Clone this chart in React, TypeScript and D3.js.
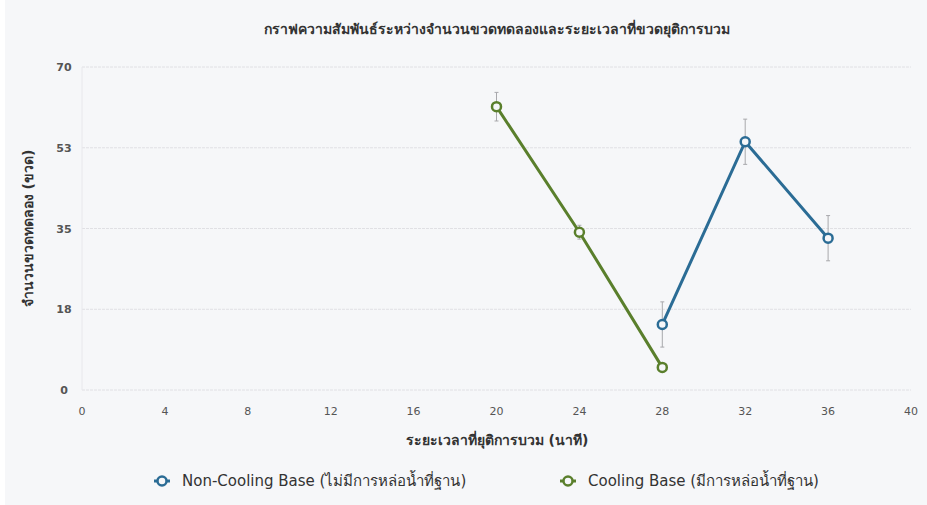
import React from "react";
import * as d3 from "d3";

const W = 927;
const H = 505;

const title = "กราฟความสัมพันธ์ระหว่างจำนวนขวดทดลองและระยะเวลาที่ขวดยุติการบวม";
const xTitle = "ระยะเวลาที่ยุติการบวม (นาที)";
const yTitle = "จำนวนขวดทดลอง (ขวด)";

const xTicks = [0, 4, 8, 12, 16, 20, 24, 28, 32, 36, 40];
const yTicks = [0, 17.5, 35, 52.5, 70];

const seriesNames = ["Non-Cooling Base (ไม่มีการหล่อน้ำที่ฐาน)", "Cooling Base (มีการหล่อน้ำที่ฐาน)"];
const seriesColors = ["#2b6c95", "#5a7f2c"];

const nonCoolingX = [28, 32, 36];
const nonCoolingY = [14.2, 53.8, 32.9];
const nonCoolingErr = [4.9, 4.9, 4.9];

const coolingX = [20, 24, 28];
const coolingY = [61.4, 34.2, 4.9];
const coolingErr = [3.1, 1.5, 0.5];

const FONT = "Tahoma, 'DejaVu Sans', 'Noto Sans', sans-serif";

export default function App() {
  const x = d3.scaleLinear().domain([0, 40]).range([82, 911]);
  const y = d3.scaleLinear().domain([0, 70]).range([390, 67]);

  const series = [
    { xs: nonCoolingX, ys: nonCoolingY, err: nonCoolingErr, color: seriesColors[0] },
    { xs: coolingX, ys: coolingY, err: coolingErr, color: seriesColors[1] },
  ];

  const line = d3
    .line<[number, number]>()
    .x((d) => x(d[0]))
    .y((d) => y(d[1]));

  const legendX = [162, 568];

  return (
    <svg
      width={W}
      height={H}
      style={{ position: "absolute", left: 0, top: 0, background: "#f6f7f9" }}
      fontFamily={FONT}
    >
      <rect x={0} y={0} width={W} height={H} fill="#f6f7f9" />
      <rect x={0} y={0} width={5} height={H} fill="#ffffff" />

      <text x={497} y={34} textAnchor="middle" fontSize={14} fontWeight="bold" fill="#333">
        {title}
      </text>

      {/* horizontal gridlines */}
      {yTicks.map((t) => (
        <line
          key={t}
          x1={x(0)}
          x2={x(40)}
          y1={y(t)}
          y2={y(t)}
          stroke="#e0e0e4"
          strokeWidth={1}
          strokeDasharray="3,1"
        />
      ))}
      <line x1={x(0)} x2={x(0)} y1={y(70)} y2={y(0)} stroke="#e8e8ec" strokeWidth={1} />

      {/* y tick labels */}
      {yTicks.map((t) => (
        <text
          key={t}
          x={64}
          y={y(t) + 4}
          textAnchor="middle"
          fontSize={11}
          fontWeight="bold"
          fill="#555"
        >
          {Math.round(t)}
        </text>
      ))}

      {/* x tick labels */}
      {xTicks.map((t) => (
        <text key={t} x={x(t)} y={415} textAnchor="middle" fontSize={11} fill="#555">
          {t}
        </text>
      ))}

      <text x={497} y={445} textAnchor="middle" fontSize={14} fontWeight="bold" fill="#333">
        {xTitle}
      </text>
      <text
        transform={`translate(33,${y(35)}) rotate(-90)`}
        textAnchor="middle"
        fontSize={14}
        fontWeight="bold"
        fill="#333"
      >
        {yTitle}
      </text>

      {/* error bars */}
      {series.map((s, si) =>
        s.xs.map((xv, i) => (
          <g key={`e${si}-${i}`} stroke="#a8a8ac" strokeWidth={1}>
            <line x1={x(xv)} x2={x(xv)} y1={y(s.ys[i] + s.err[i])} y2={y(s.ys[i] - s.err[i])} />
            <line x1={x(xv) - 2} x2={x(xv) + 2} y1={y(s.ys[i] + s.err[i])} y2={y(s.ys[i] + s.err[i])} />
            <line x1={x(xv) - 2} x2={x(xv) + 2} y1={y(s.ys[i] - s.err[i])} y2={y(s.ys[i] - s.err[i])} />
          </g>
        ))
      )}

      {/* lines and markers */}
      {series.map((s, si) => (
        <g key={`s${si}`}>
          <path
            d={line(s.xs.map((xv, i) => [xv, s.ys[i]] as [number, number])) || ""}
            fill="none"
            stroke={s.color}
            strokeWidth={3}
          />
          {s.xs.map((xv, i) => (
            <circle
              key={i}
              cx={x(xv)}
              cy={y(s.ys[i])}
              r={4.5}
              fill="#f6f7f9"
              stroke={s.color}
              strokeWidth={2.5}
            />
          ))}
        </g>
      ))}

      {/* legend */}
      {seriesNames.map((name, i) => (
        <g key={name} transform={`translate(${legendX[i]},481)`}>
          <line x1={-8} x2={8} y1={0} y2={0} stroke={seriesColors[i]} strokeWidth={3} />
          <circle cx={0} cy={0} r={4.5} fill="#f6f7f9" stroke={seriesColors[i]} strokeWidth={2.5} />
          <text x={20} y={5} fontSize={15} fill="#333">
            {name}
          </text>
        </g>
      ))}
    </svg>
  );
}
